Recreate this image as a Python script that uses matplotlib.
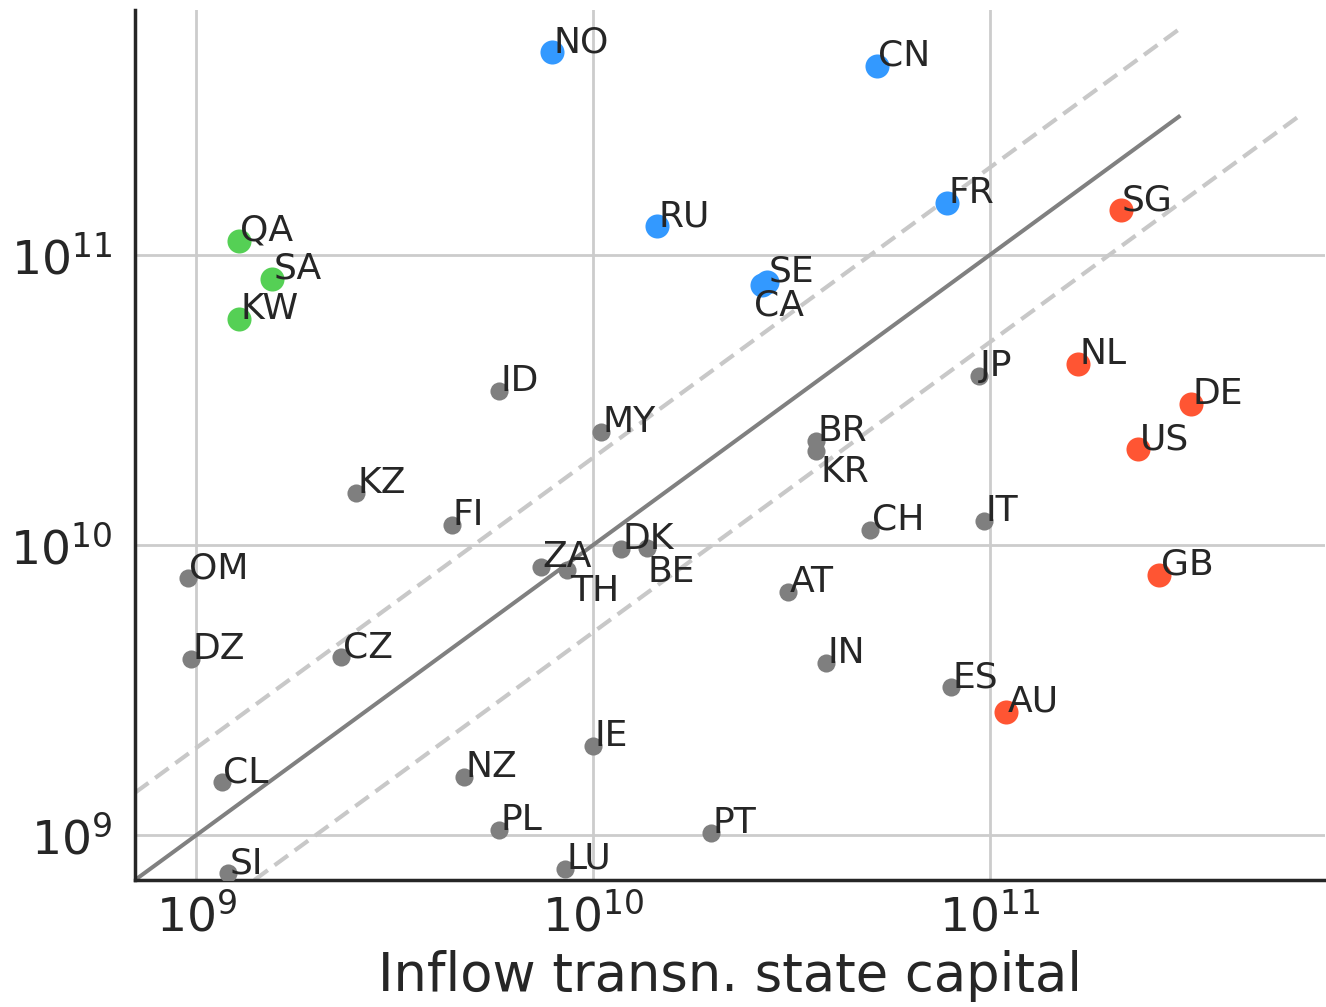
import numpy as np
import matplotlib
matplotlib.use("Agg")
import matplotlib.pyplot as plt

# countries and values (inflow / outflow of transnational state capital)
countries = ["NO", "CN", "FR", "RU", "SE", "CA", "QA", "SA", "KW",
             "SG", "NL", "DE", "US", "GB", "AU",
             "JP", "ID", "MY", "BR", "KR", "KZ", "FI", "CH", "IT", "DK",
             "BE", "ZA", "TH", "OM", "AT", "DZ", "CZ", "IN", "ES", "IE",
             "CL", "NZ", "PL", "PT", "LU", "SI"]
inflow = [7.9e9, 5.2e10, 7.8e10, 1.45e10, 2.75e10, 2.67e10, 1.28e9, 1.55e9, 1.28e9,
          2.14e11, 1.67e11, 3.23e11, 2.37e11, 2.68e11, 1.10e11,
          9.4e10, 5.8e9, 1.05e10, 3.66e10, 3.66e10, 2.53e9, 4.4e9, 5.0e10, 9.7e10, 1.18e10,
          1.37e10, 7.4e9, 8.6e9, 9.5e8, 3.1e10, 9.7e8, 2.32e9, 3.88e10, 7.98e10, 1.0e10,
          1.16e9, 4.73e9, 5.8e9, 1.98e10, 8.5e9, 1.2e9]
outflow = [5.0e11, 4.5e11, 1.51e11, 1.26e11, 8.1e10, 7.9e10, 1.12e11, 8.3e10, 6.0e10,
           1.43e11, 4.2e10, 3.06e10, 2.14e10, 7.9e9, 2.66e9,
           3.83e10, 3.4e10, 2.45e10, 2.28e10, 2.11e10, 1.51e10, 1.17e10, 1.13e10, 1.21e10, 9.7e9,
           9.8e9, 8.4e9, 8.2e9, 7.7e9, 6.9e9, 4.04e9, 4.11e9, 3.92e9, 3.24e9, 2.03e9,
           1.52e9, 1.58e9, 1.04e9, 1.02e9, 7.64e8, 7.4e8]
groups = ["out", "out", "out", "out", "out", "out", "gulf", "gulf", "gulf",
          "in", "in", "in", "in", "in", "in"] + ["other"] * 26

group_colors = {"out": "#3399ff", "gulf": "#55d055", "in": "#ff5533", "other": "#7f7f7f"}
group_sizes = {"out": 300, "gulf": 300, "in": 300, "other": 170}

# labels that sit below their point
below = {"CA": (-6, -3), "TH": (2, -3), "BE": (0, -5), "KR": (3, -3)}

lo, hi = 7e8, 3e11

fig = plt.figure(figsize=(13.26, 10.07), dpi=100)
ax = fig.add_axes([0.1018, 0.1261, 0.8972, 0.8639])

ax.plot([lo, hi], [lo, hi], color="#808080", lw=2.9, zorder=1)
ax.plot([lo, hi], [2 * lo, 2 * hi], color="#c8c8c8", lw=3, dashes=(4, 2), zorder=1)
ax.plot([2 * lo, 2 * hi], [lo, hi], color="#c8c8c8", lw=3, dashes=(4, 2), zorder=1)

for c, x, y, g in zip(countries, inflow, outflow, groups):
    ax.scatter(x, y, s=group_sizes[g], color=group_colors[g], lw=0, zorder=3)
    if c in below:
        ax.annotate(c, (x, y), xytext=below[c], textcoords="offset points",
                    ha="left", va="top", fontsize=26, color="#262626", zorder=4)
    else:
        ax.annotate(c, (x, y), xytext=(1, 0), textcoords="offset points",
                    ha="left", va="baseline", fontsize=26, color="#262626", zorder=4)

ax.set_xscale("log")
ax.set_yscale("log")
ax.set_xlim(7e8, 7e11)
ax.set_ylim(7e8, 7e11)
ax.set_xticks([1e9, 1e10, 1e11])
ax.set_yticks([1e9, 1e10, 1e11])
ax.minorticks_off()
ax.tick_params(axis="both", length=0, labelsize=34, colors="#262626")
ax.tick_params(axis="y", pad=16)
ax.tick_params(axis="x", pad=10)
ax.grid(True, color="#cccccc", lw=2, zorder=0)
ax.set_axisbelow(True)
for s in ["top", "right"]:
    ax.spines[s].set_visible(False)
for s in ["left", "bottom"]:
    ax.spines[s].set_color("#262626")
    ax.spines[s].set_linewidth(2.5)
ax.set_xlabel("Inflow transn. state capital", fontsize=38, color="#262626", labelpad=6)

fig.savefig("out.png", dpi=100)
